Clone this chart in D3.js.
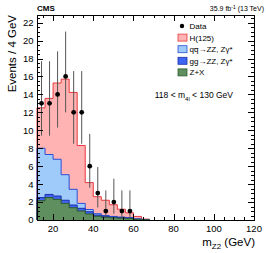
<!DOCTYPE html>
<html>
<head>
<meta charset="utf-8">
<script src="https://cdn.jsdelivr.net/npm/d3@7"></script>
<style>
  html, body { margin: 0; padding: 0; background: #fff; }
  svg { display: block; font-family: "Liberation Sans", Arial, sans-serif; }
</style>
</head>
<body>
<div id="chart"></div>
<script>
// ---------- DATA ----------
// 4 GeV bins, lower edges
const BIN_LO = [12, 16, 20, 24, 28, 32, 36, 40, 44, 48, 52, 56, 60, 64];
const BIN_W = 4;

// stacked expectations (per component, not cumulative)
const ZX  = [2.15, 2.5, 2.3, 1.85, 1.37, 1.0, 0.67, 0.42, 0.3, 0.24, 0.2, 0.15, 0.06, 0.02];
const GG  = [0.35, 0.35, 0.37, 0.35, 0.3, 0.3, 0.25, 0.13, 0.1, 0.08, 0.07, 0.07, 0.04, 0.01];
const QQ  = [5.5, 4.45, 4.1, 2.85, 1.75, 0.55, 0.25, 0.15, 0.1, 0.08, 0.06, 0.05, 0.03, 0.01];
const H125 = [4.5, 6.25, 8.5, 10.65, 10.8, 6.45, 3.0, 1.9, 1.7, 1.3, 0.87, 0.53, 0.27, 0.06];

// observed data
const DATA_X  = [14, 18, 22, 26, 30, 34, 38, 42, 46, 50, 54, 58];
const DATA_N  = [13, 13, 14, 16, 12, 12, 6, 3, 1, 2, 1, 1];
const DATA_LO = [9.4, 9.4, 10.3, 12.0, 8.5, 8.5, 3.6, 1.4, 0.17, 0.7, 0.17, 0.17];
const DATA_HI = [17.7, 17.7, 18.8, 21.0, 16.6, 16.6, 9.6, 5.9, 3.3, 4.6, 3.3, 3.3];

const X_TICKS = [20, 40, 60, 80, 100, 120];
const Y_TICKS = [0, 2, 4, 6, 8, 10, 12, 14, 16, 18, 20, 22];

// legend entries, top to bottom
const LEGEND = [
  { key: "h",  label: "H(125)" },
  { key: "qq", label: "q\u0071\u0305\u2192ZZ, Z\u03b3*" },
  { key: "gg", label: "gg\u2192ZZ, Z\u03b3*" },
  { key: "zx", label: "Z+X" }
];

const STYLE = {
  h:  { fill: "#ffb3b3", stroke: "#e8383d" },
  qq: { fill: "#9fcbfb", stroke: "#2c4fd8" },
  gg: { fill: "#3f66f2", stroke: "#1c2fa8" },
  zx: { fill: "#5f8f5f", stroke: "#2d5a2d" }
};

// ---------- SCAFFOLD ----------
const W = 266, H = 253;
const M = { left: 37, right: 254, top: 15, bottom: 220 };

const svg = d3.select("#chart").append("svg")
  .attr("width", W)
  .attr("height", H);

const x = d3.scaleLinear().domain([12, 120]).range([M.left, M.right]);
const y = d3.scaleLinear().domain([0, 22.85]).range([M.bottom, M.top]);

// build stack rows
const rows = BIN_LO.map((lo, i) => ({ lo, zx: ZX[i], gg: GG[i], qq: QQ[i], h: H125[i] }));
const stack = d3.stack().keys(["zx", "gg", "qq", "h"])(rows);

// step points: each bin contributes its two edges
function stepPoints(layer) {
  const pts = [];
  layer.forEach(d => {
    pts.push({ x: d.data.lo, top: d[1] });
    pts.push({ x: d.data.lo + BIN_W, top: d[1] });
  });
  return pts;
}

const area = d3.area()
  .x(d => x(d.x))
  .y0(y(0))
  .y1(d => y(d.top));

const line = d3.line()
  .x(d => x(d.x))
  .y(d => y(d.top));

// draw cumulative histograms from the top layer downward (ROOT THStack style)
const plot = svg.append("g");
stack.slice().reverse().forEach(layer => {
  const pts = stepPoints(layer);
  const st = STYLE[layer.key];
  plot.append("path")
    .attr("d", area(pts))
    .attr("fill", st.fill);
  const closed = [{ x: pts[0].x, top: 0 }, ...pts, { x: pts[pts.length - 1].x, top: 0 }];
  plot.append("path")
    .attr("d", line(closed))
    .attr("fill", "none")
    .attr("stroke", st.stroke)
    .attr("stroke-width", 1);
});

// ---------- DATA POINTS ----------
const pts = DATA_X.map((v, i) => ({ x: v, n: DATA_N[i], lo: DATA_LO[i], hi: DATA_HI[i] }));

svg.append("g").selectAll("line")
  .data(pts)
  .join("line")
  .attr("x1", d => x(d.x) + 0.5)
  .attr("x2", d => x(d.x) + 0.5)
  .attr("y1", d => y(d.lo))
  .attr("y2", d => y(d.hi))
  .attr("stroke", "#555")
  .attr("stroke-width", 1);

svg.append("g").selectAll("circle")
  .data(pts)
  .join("circle")
  .attr("cx", d => x(d.x) + 0.5)
  .attr("cy", d => y(d.n))
  .attr("r", 2.4)
  .attr("fill", "#000");

// ---------- FRAME & AXES ----------
const axes = svg.append("g").attr("stroke", "#000").attr("stroke-width", 1);

axes.append("rect")
  .attr("x", M.left + 0.5)
  .attr("y", M.top + 0.5)
  .attr("width", M.right - M.left)
  .attr("height", M.bottom - M.top)
  .attr("fill", "none");

const xMinor = d3.range(15, 120, 5).filter(v => v % 20 !== 0);
const yMinor = d3.range(0.5, 22.85, 0.5).filter(v => Math.abs(v % 2) > 1e-6);

function xTick(v, len) {
  const px = Math.round(x(v)) + 0.5;
  axes.append("line").attr("x1", px).attr("x2", px).attr("y1", M.bottom).attr("y2", M.bottom - len);
  axes.append("line").attr("x1", px).attr("x2", px).attr("y1", M.top).attr("y2", M.top + len);
}
function yTick(v, len) {
  const py = Math.round(y(v)) + 0.5;
  axes.append("line").attr("x1", M.left).attr("x2", M.left + len).attr("y1", py).attr("y2", py);
  axes.append("line").attr("x1", M.right).attr("x2", M.right - len).attr("y1", py).attr("y2", py);
}
X_TICKS.forEach(v => xTick(v, 6));
xMinor.forEach(v => xTick(v, 3));
Y_TICKS.forEach(v => yTick(v, 6));
yMinor.forEach(v => yTick(v, 3));

// tick labels
svg.append("g").selectAll("text")
  .data(X_TICKS)
  .join("text")
  .attr("x", d => x(d))
  .attr("y", 232)
  .attr("text-anchor", "middle")
  .attr("font-size", 9.5)
  .text(d => d);

svg.append("g").selectAll("text")
  .data(Y_TICKS)
  .join("text")
  .attr("x", 33.5)
  .attr("y", d => y(d) + 3.4)
  .attr("text-anchor", "end")
  .attr("font-size", 9.5)
  .text(d => d);

// axis titles
svg.append("text")
  .attr("transform", `translate(16,${M.top}) rotate(-90)`)
  .attr("text-anchor", "end")
  .attr("font-size", 11.5)
  .text("Events / 4 GeV");

const xt = svg.append("text")
  .attr("x", M.right + 1)
  .attr("y", 246)
  .attr("text-anchor", "end")
  .attr("font-size", 11.5);
xt.append("tspan").text("m");
xt.append("tspan").attr("dy", 3).attr("font-size", 8).text("Z2");
xt.append("tspan").attr("dy", -3).text(" (GeV)");

// header
svg.append("text")
  .attr("x", M.left)
  .attr("y", 11)
  .attr("font-size", 8)
  .attr("font-weight", "bold")
  .text("CMS");

const lumi = svg.append("text")
  .attr("x", 264)
  .attr("y", 11)
  .attr("text-anchor", "end")
  .attr("font-size", 7);
lumi.append("tspan").text("35.9 fb");
lumi.append("tspan").attr("dy", -2.5).attr("font-size", 5).text("-1");
lumi.append("tspan").attr("dy", 2.5).text(" (13 TeV)");

// mass window
const win = svg.append("text")
  .attr("x", 233)
  .attr("y", 98)
  .attr("text-anchor", "end")
  .attr("font-size", 8.5);
win.append("tspan").text("118 < m");
win.append("tspan").attr("dy", 2.5).attr("font-size", 6).text("4l");
win.append("tspan").attr("dy", -2.5).text(" < 130 GeV");

// ---------- LEGEND ----------
const leg = svg.append("g").attr("font-size", 8);
const LEG_X = 177.5, LEG_Y0 = 26, LEG_DY = 11.6;

leg.append("circle")
  .attr("cx", LEG_X + 4.5)
  .attr("cy", LEG_Y0)
  .attr("r", 2.2)
  .attr("fill", "#000");
leg.append("text")
  .attr("x", LEG_X + 12)
  .attr("y", LEG_Y0 + 3)
  .text("Data");

LEGEND.forEach((d, i) => {
  const cy = LEG_Y0 + (i + 1) * LEG_DY;
  leg.append("rect")
    .attr("x", LEG_X + 0.5)
    .attr("y", cy - 3.5)
    .attr("width", 9)
    .attr("height", 7)
    .attr("fill", STYLE[d.key].fill)
    .attr("stroke", STYLE[d.key].stroke)
    .attr("stroke-width", 0.8);
  leg.append("text")
    .attr("x", LEG_X + 12)
    .attr("y", cy + 3)
    .text(d.label);
});
</script>
</body>
</html>
